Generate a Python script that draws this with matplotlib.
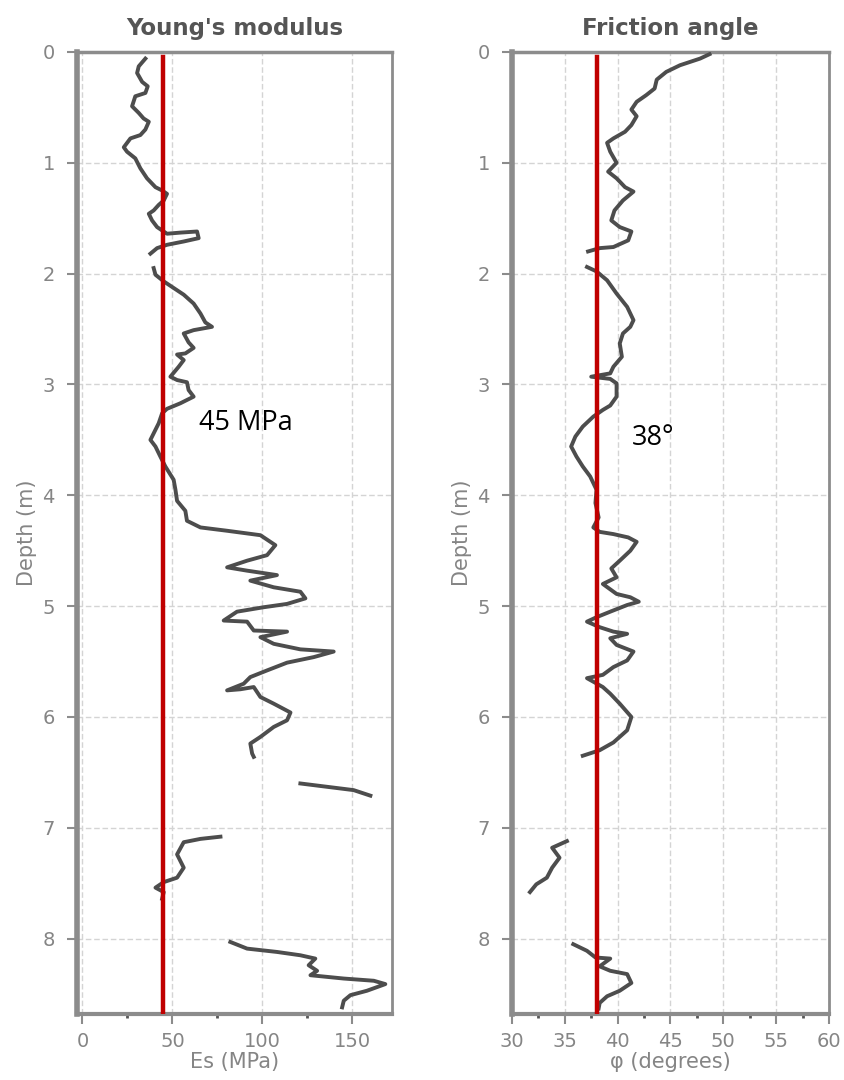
import numpy as np
import matplotlib
matplotlib.use('Agg')
import matplotlib.pyplot as plt

nan = np.nan

# Young's modulus log (MPa) vs depth (m); NaN marks gaps between logged intervals
es_depth = [0.06, 0.13, 0.19, 0.27, 0.31, 0.37, 0.40, 0.49, 0.55, 0.60, 0.63, 0.70, 0.75, 0.78,
            0.86, 0.90, 0.96, 1.05, 1.14, 1.22, 1.25, 1.28, 1.34, 1.38, 1.43, 1.46, 1.52, 1.58,
            1.64, 1.63, 1.62, 1.68, 1.71, 1.74, 1.77, 1.82, nan,
            1.95, 2.01, 2.07, 2.13, 2.19, 2.27, 2.36, 2.44, 2.48, 2.51, 2.54, 2.62, 2.67, 2.72,
            2.73, 2.78, 2.84, 2.93, 2.96, 2.98, 3.05, 3.11, 3.17, 3.22, 3.26, 3.35, 3.44, 3.50,
            3.56, 3.65, 3.74, 3.86, 3.95, 4.05, 4.14, 4.23, 4.29, 4.32, 4.36, 4.45, 4.54, 4.59,
            4.65, 4.68, 4.72, 4.77, 4.83, 4.87, 4.93, 4.98, 5.01, 5.05, 5.13, 5.14, 5.22, 5.23,
            5.28, 5.34, 5.39, 5.41, 5.46, 5.51, 5.58, 5.64, 5.70, 5.76, 5.75, 5.73, 5.82, 5.88,
            5.96, 6.03, 6.09, 6.18, 6.24, 6.33, 6.36, nan,
            6.60, 6.63, 6.66, 6.71, nan,
            7.08, 7.10, 7.13, 7.24, 7.36, 7.45, 7.49, 7.54, 7.58, 7.64, nan,
            8.03, 8.09, 8.12, 8.15, 8.18, 8.24, 8.29, 8.33, 8.36, 8.38, 8.41, 8.47, 8.51, 8.56,
            8.62]
es_value = [35.0, 31.3, 30.4, 33.2, 36.3, 35.0, 29.4, 27.6, 31.3, 34.0, 36.9, 35.0, 32.2, 26.7,
            23.0, 24.8, 29.4, 32.2, 35.9, 40.6, 44.3, 47.0, 45.2, 42.4, 39.6, 36.9, 38.7, 41.5,
            47.0, 54.4, 63.7, 64.6, 56.3, 47.0, 41.5, 37.8, nan,
            39.6, 40.6, 45.2, 50.7, 56.3, 61.8, 65.6, 68.3, 72.0, 61.8, 56.3, 59.0, 61.8, 57.2,
            52.6, 56.3, 53.5, 48.9, 52.6, 58.1, 59.0, 61.8, 54.4, 47.0, 44.3, 42.4, 39.6, 37.8,
            40.6, 43.3, 46.1, 50.7, 51.7, 52.6, 57.2, 58.1, 65.6, 80.4, 98.9, 107.2, 102.6, 91.5,
            80.4, 91.5, 108.1, 93.3, 106.3, 121.1, 123.9, 113.7, 100.7, 85.9, 78.5, 91.5, 95.2, 113.7,
            98.9, 106.3, 121.1, 139.6, 128.5, 113.7, 102.6, 93.3, 89.6, 80.4, 87.8, 95.2, 98.9, 106.3,
            115.6, 113.7, 106.3, 98.9, 93.3, 94.3, 95.2, nan,
            121.1, 135.9, 150.7, 160.0, nan,
            76.7, 65.6, 56.3, 52.6, 56.3, 52.6, 45.2, 40.6, 45.2, 44.3, nan,
            82.2, 91.5, 108.1, 121.1, 129.4, 125.7, 130.4, 126.7, 145.2, 161.9, 168.3, 158.1, 148.9, 145.2,
            144.3]

# Friction angle log (degrees) vs depth (m)
phi_depth = [0.02, 0.06, 0.12, 0.18, 0.25, 0.33, 0.39, 0.45, 0.52, 0.58, 0.66, 0.72, 0.78, 0.82,
             0.90, 1.00, 1.08, 1.14, 1.22, 1.26, 1.34, 1.43, 1.52, 1.58, 1.62, 1.70, 1.76, 1.77,
             1.80, nan,
             1.94, 1.98, 2.06, 2.18, 2.30, 2.42, 2.48, 2.54, 2.63, 2.75, 2.84, 2.90, 2.93, 2.95,
             2.99, 3.11, 3.19, 3.23, 3.29, 3.38, 3.47, 3.56, 3.65, 3.74, 3.83, 3.95, 4.07, 4.20,
             4.29, 4.33, 4.35, 4.38, 4.42, 4.50, 4.59, 4.66, 4.74, 4.80, 4.89, 4.92, 4.96, 4.99,
             5.05, 5.10, 5.14, 5.19, 5.23, 5.25, 5.29, 5.35, 5.41, 5.49, 5.55, 5.62, 5.65, 5.73,
             5.79, 5.88, 6.00, 6.12, 6.23, 6.30, 6.35, nan,
             7.12, 7.18, 7.27, 7.36, 7.45, 7.48, 7.51, 7.58, nan,
             8.05, 8.11, 8.17, 8.18, 8.25, 8.29, 8.32, 8.40, 8.47, 8.52, 8.58, 8.63]
phi_value = [48.7, 47.8, 45.9, 44.6, 43.7, 43.5, 42.7, 41.8, 41.3, 41.8, 41.3, 40.7, 39.6, 39.0,
             39.3, 39.9, 39.1, 39.9, 40.7, 41.5, 40.5, 39.7, 39.4, 40.2, 41.3, 41.0, 39.6, 38.3,
             37.2, nan,
             37.1, 38.0, 39.0, 39.9, 40.9, 41.5, 41.2, 40.5, 40.2, 40.4, 39.6, 39.3, 37.5, 39.3,
             39.9, 39.9, 39.3, 38.6, 37.7, 36.7, 36.0, 35.6, 36.1, 36.7, 37.4, 38.0, 37.9, 38.2,
             37.7, 38.3, 39.6, 41.0, 41.8, 41.2, 40.2, 39.4, 39.9, 38.6, 39.9, 41.2, 42.0, 40.9,
             39.3, 38.0, 37.1, 38.3, 39.6, 40.9, 39.3, 39.9, 41.5, 40.9, 39.6, 38.6, 37.1, 38.6,
             39.3, 40.2, 41.3, 40.9, 39.6, 38.3, 36.7, nan,
             35.2, 33.8, 34.5, 33.8, 33.3, 32.8, 32.3, 31.7, nan,
             35.8, 37.1, 37.9, 39.3, 38.3, 39.3, 40.9, 41.3, 40.2, 39.0, 38.3, 38.2]

# design values shown as red reference lines
es_design = 45
phi_design = 38

es_ticks = [0, 50, 100, 150]
phi_ticks = [30, 35, 40, 45, 50, 55, 60]
depth_ticks = [0, 1, 2, 3, 4, 5, 6, 7, 8]

GRAY_TXT = '#858585'
SPINE = '#8c8c8c'
CURVE = '#4d4d4d'
RED = '#c00000'

fig = plt.figure(figsize=(8.45, 10.8), dpi=100)
ax1 = fig.add_axes([0.0911, 0.0611, 0.3728, 0.8908])
ax2 = fig.add_axes([0.6059, 0.0611, 0.3751, 0.8908])


def style_axes(ax, xlim, xticks, minor, title, xlabel):
    ax.set_xlim(*xlim)
    ax.set_ylim(8.68, 0)
    ax.set_xticks(xticks)
    ax.set_xticks(minor, minor=True)
    ax.set_yticks(depth_ticks)
    ax.grid(True, which='major', color='#d4d4d4', linestyle=(0, (4, 2)), linewidth=1.0)
    ax.set_axisbelow(True)
    for side, lw in (('left', 4.0), ('bottom', 3.0), ('top', 2.5), ('right', 2.0)):
        ax.spines[side].set_color(SPINE)
        ax.spines[side].set_linewidth(lw)
    ax.tick_params(axis='both', which='major', direction='out', length=7, width=1.5,
                   color=SPINE, labelcolor=GRAY_TXT, labelsize=14)
    ax.tick_params(axis='y', which='major', pad=9)
    ax.tick_params(axis='x', which='major', pad=6)
    ax.tick_params(axis='x', which='minor', direction='out', length=3, width=2, color='#555555')
    ax.set_title(title, fontsize=16.5, fontweight='bold', color='#555555', pad=12)
    ax.set_xlabel(xlabel, fontsize=15, color=GRAY_TXT, labelpad=1)
    ax.set_ylabel('Depth (m)', fontsize=15, color=GRAY_TXT, labelpad=4)


style_axes(ax1, (-3, 172), es_ticks, [25, 75, 125], "Young's modulus", 'Es (MPa)')
style_axes(ax2, (30, 60), phi_ticks, [32.5, 37.5, 42.5, 47.5, 52.5, 57.5],
           'Friction angle', 'φ (degrees)')

ax1.plot(es_value, es_depth, color=CURVE, linewidth=2.8, solid_joinstyle='round', zorder=3)
ax2.plot(phi_value, phi_depth, color=CURVE, linewidth=2.8, solid_joinstyle='round', zorder=3)

ax1.axvline(es_design, ymin=0, ymax=0.995, color=RED, linewidth=3.2, zorder=4)
ax2.axvline(phi_design, ymin=0, ymax=0.995, color=RED, linewidth=3.2, zorder=4)

ax1.text(65, 3.35, f'{es_design} MPa', fontsize=19.5, family=['Open Sans', 'DejaVu Sans'],
         color='black', va='center', ha='left', zorder=5)
ax2.text(41.3, 3.48, f'{phi_design}°', fontsize=19.5, family=['Open Sans', 'DejaVu Sans'],
         color='black', va='center', ha='left', zorder=5)

fig.savefig('out.png', dpi=100, facecolor='white')
